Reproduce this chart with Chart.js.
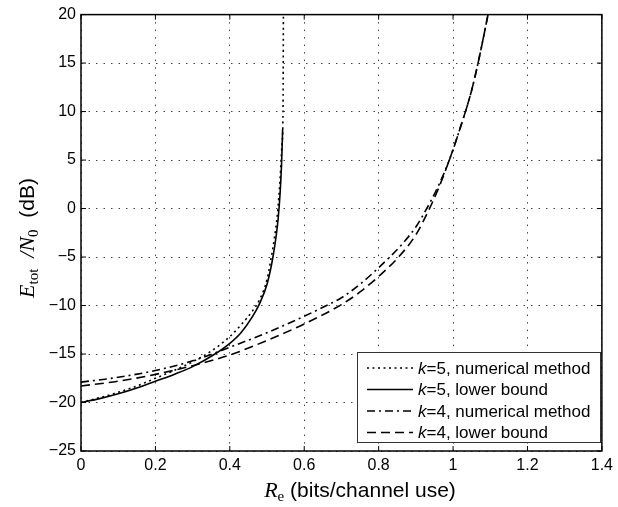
<!DOCTYPE html>
<html>
<head>
<meta charset="utf-8">
<script src="https://cdn.jsdelivr.net/npm/chart.js@4/dist/chart.umd.min.js"></script>
<style>
html,body{margin:0;padding:0;background:#fff;}
canvas{display:block;}
</style>
</head>
<body>
<canvas id="c" width="618" height="507"></canvas>
<script>
// ---- data ----
const xTicks = [0, 0.2, 0.4, 0.6, 0.8, 1.0, 1.2, 1.4];
const yTicks = [-25, -20, -15, -10, -5, 0, 5, 10, 15, 20];

// k=5, numerical method (dotted)
const k5NumX = [0, 0.05, 0.1, 0.15, 0.2, 0.25, 0.3, 0.35, 0.4, 0.43, 0.46, 0.48, 0.5, 0.51, 0.52, 0.528, 0.535, 0.54, 0.543, 0.544];
const k5NumY = [-20, -19.5, -18.95, -18.3, -17.5, -16.7, -15.8, -14.7, -13.2, -12.0, -10.6, -9.4, -7.3, -5.3, -3.0, -0.5, 3.0, 6.5, 10, 20];

// k=5, lower bound (solid)
const k5LbX = [0, 0.05, 0.1, 0.15, 0.2, 0.25, 0.3, 0.36, 0.4, 0.43, 0.46, 0.48, 0.5, 0.515, 0.525, 0.53, 0.535, 0.539, 0.542];
const k5LbY = [-20, -19.6, -19.1, -18.5, -17.8, -17.1, -16.3, -15.0, -13.9, -12.8, -11.2, -9.8, -7.8, -5.2, -2.7, -1.0, 1.5, 4.5, 8.2];

// k=4, numerical method (dash-dot)
const k4NumX = [0, 0.1, 0.2, 0.3, 0.4, 0.5, 0.6, 0.66, 0.7, 0.75, 0.8, 0.83, 0.86, 0.9, 0.925, 0.96, 0.99, 1.02, 1.05, 1.07, 1.094];
const k4NumY = [-17.9, -17.4, -16.7, -15.7, -14.3, -12.8, -11.1, -10.0, -9.2, -7.8, -6.1, -5.0, -3.8, -1.9, -0.3, 2.3, 5.0, 8.4, 12.2, 15.5, 20];

// k=4, lower bound (dashed)
const k4LbX = [0, 0.1, 0.2, 0.3, 0.4, 0.5, 0.6, 0.7, 0.75, 0.8, 0.856, 0.9, 0.933, 0.96, 0.99, 1.02, 1.05, 1.07, 1.094];
const k4LbY = [-18.3, -17.8, -17.1, -16.2, -15.1, -13.6, -11.9, -9.9, -8.6, -7.0, -4.9, -2.7, -0.3, 2.0, 5.0, 8.4, 12.2, 15.5, 20];

const seriesLabels = ["k=5, numerical method", "k=5, lower bound", "k=4, numerical method", "k=4, lower bound"];

function pts(xs, ys){ return xs.map((x,i)=>({x:x, y:ys[i]})); }

const SANS = '"Liberation Sans", Arial, Helvetica, sans-serif';
const SERIF = '"Liberation Serif", "Times New Roman", serif';

const common = {borderColor:'#000', pointRadius:0, fill:false, cubicInterpolationMode:'monotone', borderWidth:1.6};

const datasets = [
  Object.assign({label: seriesLabels[0], data: pts(k5NumX,k5NumY), borderDash:[2,3.5]}, common),
  Object.assign({label: seriesLabels[1], data: pts(k5LbX,k5LbY), borderDash:[]}, common),
  Object.assign({label: seriesLabels[2], data: pts(k4NumX,k4NumY), borderDash:[8,4,2,4]}, common),
  Object.assign({label: seriesLabels[3], data: pts(k4LbX,k4LbY), borderDash:[9,5]}, common),
];

const decorPlugin = {
  id: 'decor',
  afterDraw(chart){
    const ctx = chart.ctx;
    const a = chart.chartArea;
    const xs = chart.scales.x, ys = chart.scales.y;
    ctx.save();
    // axes box
    ctx.strokeStyle = '#000';
    ctx.lineWidth = 1.5;
    ctx.setLineDash([]);
    ctx.strokeRect(a.left, a.top, a.right - a.left, a.bottom - a.top);
    // inward ticks
    ctx.lineWidth = 1;
    const tl = 5;
    ctx.beginPath();
    xTicks.forEach(v => {
      const px = xs.getPixelForValue(v);
      ctx.moveTo(px, a.bottom); ctx.lineTo(px, a.bottom - tl);
      ctx.moveTo(px, a.top); ctx.lineTo(px, a.top + tl);
    });
    yTicks.forEach(v => {
      const py = ys.getPixelForValue(v);
      ctx.moveTo(a.left, py); ctx.lineTo(a.left + tl, py);
      ctx.moveTo(a.right, py); ctx.lineTo(a.right - tl, py);
    });
    ctx.stroke();

    // x title
    ctx.fillStyle = '#000';
    ctx.textBaseline = 'alphabetic';
    const xParts = [
      {t:'R', f:'italic 22px ' + SERIF, dy:0},
      {t:'e', f:'15px ' + SERIF, dy:4},
      {t:' (bits/channel use)', f:'21px ' + SANS, dy:0}
    ];
    drawParts(ctx, xParts, 360, 497);

    // y title (rotated)
    ctx.save();
    ctx.translate(34, 238);
    ctx.rotate(-Math.PI/2);
    const yParts = [
      {t:'E', f:'italic 22px ' + SERIF, dy:0},
      {t:'tot', f:'15px ' + SERIF, dy:4},
      {t:'  /', f:'italic 22px ' + SERIF, dy:0},
      {t:'N', f:'italic 22px ' + SERIF, dy:0},
      {t:'0', f:'15px ' + SERIF, dy:4},
      {t:'  (dB)', f:'21px ' + SANS, dy:0}
    ];
    drawParts(ctx, yParts, 0, 0);
    ctx.restore();

    // legend
    const lx = 357, ly = 352, lw = 243, lh = 90;
    ctx.fillStyle = '#fff';
    ctx.fillRect(lx, ly, lw, lh);
    ctx.strokeStyle = '#333';
    ctx.lineWidth = 1;
    ctx.strokeRect(lx + 0.5, ly + 0.5, lw, lh);
    const rowH = 21.5;
    chart.data.datasets.forEach((ds, i) => {
      const cy = ly + 16 + i * rowH;
      ctx.strokeStyle = '#000';
      ctx.lineWidth = ds.borderWidth;
      ctx.setLineDash(ds.borderDash || []);
      ctx.beginPath();
      ctx.moveTo(lx + 10, cy);
      ctx.lineTo(lx + 56, cy);
      ctx.stroke();
      ctx.setLineDash([]);
      ctx.fillStyle = '#000';
      ctx.textBaseline = 'middle';
      const lab = ds.label;
      let x = lx + 61;
      ctx.font = 'italic 17px ' + SANS;
      ctx.textAlign = 'left';
      ctx.fillText(lab.charAt(0), x, cy + 1);
      x += ctx.measureText(lab.charAt(0)).width;
      ctx.font = '17px ' + SANS;
      ctx.fillText(lab.slice(1), x, cy + 1);
    });
    ctx.restore();
  }
};

function drawParts(ctx, parts, cx, baseY){
  let total = 0;
  parts.forEach(p => { ctx.font = p.f; p.w = ctx.measureText(p.t).width; total += p.w; });
  let x = cx - total/2;
  ctx.textAlign = 'left';
  parts.forEach(p => { ctx.font = p.f; ctx.fillText(p.t, x, baseY + p.dy); x += p.w; });
}

new Chart(document.getElementById('c'), {
  type: 'line',
  data: { datasets: datasets },
  options: {
    responsive: false,
    animation: false,
    layout: { padding: { top: 14, right: 11, left: 0, bottom: 0 } },
    plugins: { legend: { display: false }, tooltip: { enabled: false } },
    scales: {
      x: {
        type: 'linear', min: 0, max: 1.4,
        afterBuildTicks: s => { s.ticks = xTicks.map(v => ({value: v})); },
        afterFit: s => { s.height = 56; },
        grid: { color: '#444', lineWidth: 1, drawTicks: false },
        border: { display: false, dash: [1.5, 6] },
        ticks: {
          padding: 5, color: '#000',
          font: { family: SANS, size: 16 },
          maxRotation: 0, autoSkip: false,
          callback: v => String(Number(v.toFixed(1)))
        }
      },
      y: {
        type: 'linear', min: -25, max: 20,
        afterBuildTicks: s => { s.ticks = yTicks.map(v => ({value: v})); },
        afterFit: s => { s.width = 81; },
        grid: { color: '#444', lineWidth: 1, drawTicks: false },
        border: { display: false, dash: [1.5, 6] },
        ticks: {
          padding: 5, color: '#000',
          font: { family: SANS, size: 16 },
          autoSkip: false,
          callback: v => String(v).replace('-', '\u2212')
        }
      }
    }
  },
  plugins: [decorPlugin]
});
</script>
</body>
</html>
